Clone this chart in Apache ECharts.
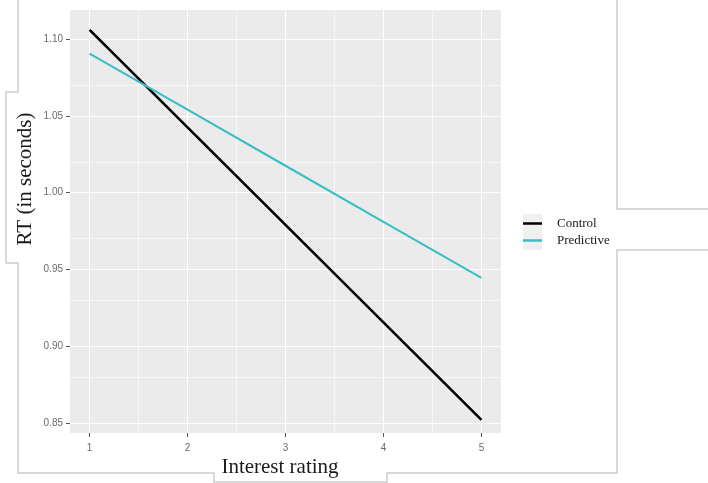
<!DOCTYPE html>
<html>
<head>
<meta charset="utf-8">
<script src="https://cdn.jsdelivr.net/npm/echarts@6/dist/echarts.min.js"></script>
<style>
  html, body { margin: 0; padding: 0; background: #ffffff; }
  #chart { width: 708px; height: 483px; }
</style>
</head>
<body>
<div id="chart"></div>
<script>
// Fitted response time by interest rating, per condition
const interestRatings = [1, 2, 3, 4, 5];
const controlRT = [1.106, 1.0425, 0.979, 0.9155, 0.852];
const predictiveRT = [1.0905, 1.054, 1.0175, 0.981, 0.9445];

// Axis breaks
const xTicks = [1, 2, 3, 4, 5];
const xMinorTicks = [1.5, 2.5, 3.5, 4.5];
const yTicks = [0.85, 0.90, 0.95, 1.00, 1.05, 1.10];
const yMinorTicks = [0.875, 0.925, 0.975, 1.025, 1.075];
const xRange = [0.8, 5.2];
const yRange = [0.8435, 1.1189];

const seriesNames = ['Control', 'Predictive'];
const seriesColors = ['#000000', '#38bec3'];

const pairs = (xs, ys) => xs.map((x, i) => [x, ys[i]]);

const gridLines = [
  ...xTicks.map(v => ({ xAxis: v, lineStyle: { width: 1.1 } })),
  ...xMinorTicks.map(v => ({ xAxis: v, lineStyle: { width: 0.6 } })),
  ...yTicks.map(v => ({ yAxis: v, lineStyle: { width: 1.1 } })),
  ...yMinorTicks.map(v => ({ yAxis: v, lineStyle: { width: 0.6 } }))
];

const tickLabelStyle = {
  color: '#6b6b6b',
  fontSize: 10,
  fontFamily: 'Liberation Sans, Arial, sans-serif'
};

const titleFont = '21px "Liberation Serif", "Times New Roman", serif';
const frameStyle = { stroke: '#cdcdcd', lineWidth: 1.5, fill: null };

const chart = echarts.init(document.getElementById('chart'), null, { renderer: 'canvas' });

chart.setOption({
  animation: false,
  backgroundColor: '#ffffff',
  grid: {
    left: 70, right: 207, top: 10, bottom: 50,
    show: true, backgroundColor: '#ebebeb', borderWidth: 0
  },
  xAxis: {
    type: 'value',
    min: xRange[0], max: xRange[1],
    axisLine: { show: false },
    splitLine: { show: false },
    axisTick: { show: true, customValues: xTicks, length: 4, lineStyle: { color: '#555555', width: 1 } },
    axisLabel: { customValues: xTicks, margin: 10, ...tickLabelStyle }
  },
  yAxis: {
    type: 'value',
    min: yRange[0], max: yRange[1],
    axisLine: { show: false },
    splitLine: { show: false },
    axisTick: { show: true, customValues: yTicks, length: 4, lineStyle: { color: '#555555', width: 1 } },
    axisLabel: { customValues: yTicks, margin: 7, formatter: v => v.toFixed(2), ...tickLabelStyle }
  },
  legend: {
    data: seriesNames.map((name, i) => ({
      name,
      icon: 'rect',
      itemStyle: { color: seriesColors[i] }
    })),
    orient: 'vertical',
    left: 523, top: 216,
    itemWidth: 19, itemHeight: 2.5, itemGap: 2,
    padding: 0,
    textStyle: {
      fontFamily: 'Liberation Serif, Times New Roman, serif',
      fontSize: 13,
      lineHeight: 15,
      color: '#1a1a1a',
      padding: [0, 0, 0, 10]
    }
  },
  graphic: [
    // key background behind legend glyphs
    { type: 'rect', z: 0, shape: { x: 523, y: 214, width: 19, height: 36 }, style: { fill: '#f0f0f0' } },
    // page outline
    { type: 'polyline', z: 0, shape: { points: [[18, 0], [18, 92], [6, 92], [6, 263], [18, 263], [18, 473], [214, 473], [214, 482], [387, 482], [387, 473], [617, 473], [617, 250], [708, 250]] }, style: frameStyle },
    { type: 'polyline', z: 0, shape: { points: [[617, 0], [617, 209], [708, 209]] }, style: frameStyle },
    // axis titles
    {
      type: 'text', z: 5, x: 25, y: 179, rotation: Math.PI / 2,
      style: { text: 'RT (in seconds)', x: 0, y: 0, align: 'center', verticalAlign: 'middle',
               font: titleFont, fill: '#1a1a1a' }
    },
    {
      type: 'text', z: 5, x: 280, y: 467,
      style: { text: 'Interest rating', x: 0, y: 0, align: 'center', verticalAlign: 'middle',
               font: titleFont, fill: '#1a1a1a' }
    }
  ],
  series: [
    {
      name: '__grid',
      type: 'line',
      data: [],
      z: 1,
      silent: true,
      markLine: {
        silent: true,
        symbol: 'none',
        label: { show: false },
        lineStyle: { color: '#ffffff', type: 'solid' },
        emphasis: { disabled: true },
        data: gridLines
      }
    },
    {
      name: seriesNames[0],
      type: 'line',
      zlevel: 1,
      z: 3,
      data: pairs(interestRatings, controlRT),
      symbol: 'none',
      color: seriesColors[0],
      lineStyle: { color: seriesColors[0], width: 2.6 }
    },
    {
      name: seriesNames[1],
      type: 'line',
      zlevel: 1,
      z: 3,
      data: pairs(interestRatings, predictiveRT),
      symbol: 'none',
      color: seriesColors[1],
      lineStyle: { color: seriesColors[1], width: 2.1 }
    }
  ]
});
</script>
</body>
</html>
